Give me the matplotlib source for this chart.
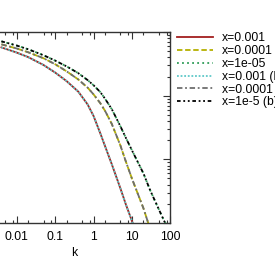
import matplotlib
matplotlib.use("Agg")
import matplotlib.pyplot as plt
from matplotlib.ticker import LogLocator, FuncFormatter, NullFormatter

plt.rcParams['font.family'] = ['Liberation Sans', 'DejaVu Sans']

k = [0.004, 0.01, 0.02, 0.05, 0.1, 0.2, 0.4, 0.7, 1, 1.5, 2, 3, 5, 7, 10, 20, 30, 50, 70, 100]

k_a = k[:15] + [15]
y_a = [5.73, 4.75, 4.03, 3.03, 2.31, 1.69, 1.16, 0.731, 0.482, 0.257, 0.161,
       0.0835, 0.0352, 0.0194, 0.0108, 0.0053]

k_b = k[:17]
y_b = [6.40, 5.51, 4.80, 3.87, 3.12, 2.41, 1.80, 1.34, 1.05, 0.763, 0.577,
       0.359, 0.166, 0.0914, 0.0500, 0.0170, 0.0080]

k_c = k
y_c = [7.13, 6.13, 5.35, 4.31, 3.56, 2.88, 2.26, 1.76, 1.46, 1.14, 0.895,
       0.613, 0.332, 0.216, 0.139, 0.0600, 0.0325, 0.0165, 0.0106, 0.0075]

labels = ["x=0.001", "x=0.0001", "x=1e-05", "x=0.001 (b)", "x=0.0001 (b)", "x=1e-5 (b)"]
xticks = [0.01, 0.1, 1, 10, 100]

W, H = 275, 265
fig = plt.figure(figsize=(W / 100, H / 100), dpi=100)
left_px, right_px, top_px, bot_px = -21.7, 170.3, 32, 223
ax = fig.add_axes([left_px / W, 1 - bot_px / H, (right_px - left_px) / W, (bot_px - top_px) / H])

lw = 1.3
ax.plot(k_a, y_a, color='#a31f1f', lw=lw, ls='-', label=labels[0])
ax.plot(k_b, y_b, color='#b5b000', lw=lw, ls=(0, (3, 1.5)), label=labels[1])
ax.plot(k_c, y_c, color='#2e9c57', lw=lw, ls=(0, (1, 1.8)), label=labels[2])
ax.plot(k_a, y_a, color='#5ec8c8', lw=lw, ls=(0, (1, 1)), label=labels[3])
ax.plot(k_b, y_b, color='#6e6e6e', lw=lw, ls=(0, (3, 1.5, 1, 1.5)), label=labels[4])
ax.plot(k_c, y_c, color='#000000', lw=lw, ls=(0, (2, 1.5, 1, 1.5, 1, 1.5)), label=labels[5])

ax.set_xscale('log')
ax.set_yscale('log')
ax.set_xlim(1e-3, 100)
ax.set_ylim(1e-2, 10)

ax.xaxis.set_major_locator(LogLocator(base=10, numticks=20))
ax.xaxis.set_minor_locator(LogLocator(base=10, subs=(2, 5, 8), numticks=20))
ax.yaxis.set_minor_locator(LogLocator(base=10, subs=tuple(range(2, 10)), numticks=20))
ax.set_xticks(xticks)
ax.xaxis.set_major_formatter(FuncFormatter(lambda v, p: '%g' % v))
ax.xaxis.set_minor_formatter(NullFormatter())
ax.tick_params(which='both', direction='in', top=True, right=True, colors='#333333',
               labelcolor='black', labelsize=8.7, width=0.8)
ax.tick_params(which='major', length=5, pad=6)
ax.tick_params(which='minor', length=2.5)
ax.tick_params(axis='y', which='both', labelleft=False)
for s in ax.spines.values():
    s.set_color('#333333')
    s.set_linewidth(1.0)
ax.set_xlabel('k', fontsize=8.7, labelpad=3)

fig.legend(loc='upper left', bbox_to_anchor=(177 / W, 1 - 32.2 / H), frameon=False,
           fontsize=8.7, handlelength=3.0, handletextpad=0.75, labelspacing=0.07,
           borderpad=0, borderaxespad=0)

fig.savefig('out.png', dpi=100)
